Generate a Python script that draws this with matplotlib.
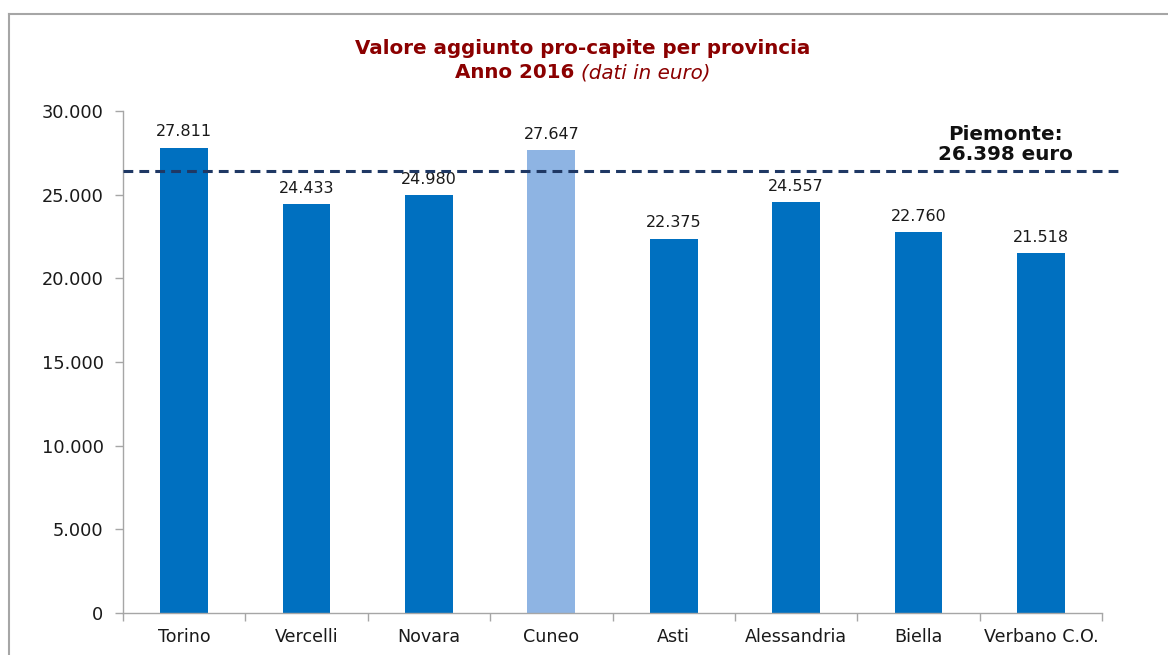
import matplotlib
matplotlib.use("Agg")
import matplotlib.pyplot as plt
from matplotlib.lines import Line2D

plt.rcParams["font.family"] = ["DejaVu Sans"]

provinces = ["Torino", "Vercelli", "Novara", "Cuneo", "Asti", "Alessandria", "Biella", "Verbano C.O."]
values = [27811, 24433, 24980, 27647, 22375, 24557, 22760, 21518]
piemonte = 26398
yticks = [0, 5000, 10000, 15000, 20000, 25000, 30000]

def fmt(v):
    return f"{v:,}".replace(",", ".")

fig = plt.figure(figsize=(11.68, 6.55), dpi=100)
ax = fig.add_axes([123/1168, 1-613/655, (1102-123)/1168, (613-111)/655])

colors = ["#8EB4E3" if p == "Cuneo" else "#0070C0" for p in provinces]
x = list(range(len(provinces)))
ax.bar(x, values, width=0.39, color=colors, zorder=2)
for xi, v in zip(x, values):
    ax.annotate(fmt(v), (xi, v), xytext=(0, 6), textcoords="offset points",
                ha="center", va="bottom", fontsize=11.5, color="#1a1a1a")

ax.set_xlim(-0.5, len(provinces) - 0.5)
ax.set_ylim(0, 30000)
ax.set_yticks(yticks)
ax.set_yticklabels([fmt(t) for t in yticks], fontsize=12.8, color="#1a1a1a")
ax.set_xticks([i - 0.5 for i in range(len(provinces) + 1)])
ax.set_xticklabels([])
ax.set_xticks(x, minor=True)
ax.set_xticklabels(provinces, minor=True, fontsize=12.6, color="#1a1a1a")
ax.tick_params(axis="x", which="minor", length=0, pad=11)
ax.tick_params(axis="x", which="major", length=6, color="#A6A6A6", width=1)
ax.tick_params(axis="y", length=6, color="#A6A6A6", width=1, pad=8)
for s in ["top", "right"]:
    ax.spines[s].set_visible(False)
for s in ["left", "bottom"]:
    ax.spines[s].set_color("#A6A6A6")
    ax.spines[s].set_linewidth(1)

ax.plot([-0.5, 7.64], [piemonte, piemonte], ls=(0, (3.2, 2.0)), lw=2.2, color="#1F3864",
        clip_on=False, zorder=3)
ax.text(6.71, 26850, "Piemonte:\n26.398 euro", ha="center", va="bottom",
        fontsize=14.3, fontweight="bold", color="#111111", linespacing=1.05)

t0 = fig.text(583/1168, 1-48/655, "Valore aggiunto pro-capite per provincia", ha="center", va="center",
              fontsize=14.3, fontweight="bold", color="#8B0000")
t1 = fig.text(0, 1-73/655, "Anno 2016 ", ha="left", va="center",
              fontsize=14.3, fontweight="bold", color="#8B0000")
t2 = fig.text(0, 1-73/655, "(dati in euro)", ha="left", va="center",
              fontsize=14.3, fontstyle="italic", color="#8B0000")
fig.canvas.draw()
r = fig.canvas.get_renderer()
w1 = t1.get_window_extent(r).width
w2 = t2.get_window_extent(r).width
start = 583 - (w1 + w2) / 2
t1.set_x(start / 1168)
t2.set_x((start + w1) / 1168)

fig.add_artist(Line2D([8.5/1168, 8.5/1168], [0, 1-13.5/655], color="#A6A6A6", lw=1.5))
fig.add_artist(Line2D([8.5/1168, 1], [1-13.5/655, 1-13.5/655], color="#A6A6A6", lw=1.5))

fig.savefig("out.png", dpi=100)
